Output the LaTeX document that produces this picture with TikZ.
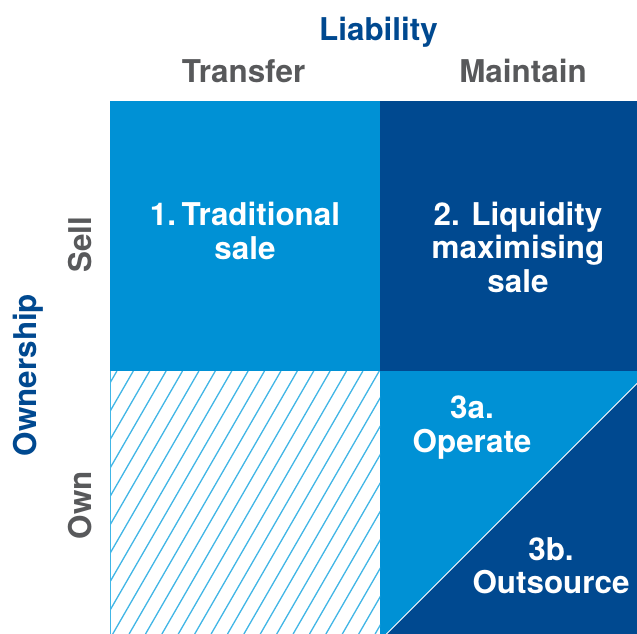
\documentclass[tikz,border=0pt]{standalone}
\usepackage{fontspec}
\setmainfont{TeX Gyre Heros}
\definecolor{lightblue}{HTML}{0091D5}
\definecolor{darkblue}{HTML}{004990}
\definecolor{hatchblue}{HTML}{41B6E6}
\definecolor{textgray}{HTML}{58595B}
\tikzset{
  lbl/.style={inner sep=0pt, anchor=base, font=\bfseries\fontsize{31.5}{34}\selectfont},
  celltext/.style={lbl, text=white},
  axistext/.style={lbl, text=textgray},
  titletext/.style={lbl, text=darkblue},
}
\begin{document}
\begin{tikzpicture}[x=1bp,y=-1bp]
\useasboundingbox (0,0) rectangle (637,634);
\fill[white] (0,0) rectangle (637,634);
% cells
\fill[lightblue] (110,101) rectangle (380,371);
\fill[darkblue] (380,101) rectangle (637,371);
\fill[lightblue] (380,371) rectangle (637,634);
\fill[darkblue] (386.5,634) -- (637,383.5) -- (637,634) -- cycle;
\draw[white, line width=0.8bp] (386.5,634) -- (637,383.5);
% hatched cell
\begin{scope}
  \clip (110,371) rectangle (380,634);
  \foreach \k in {-3,...,26} {
    \draw[hatchblue, line width=1.3bp] (133.3+16.4*\k,371) -- ++(-151.8,263);
  }
\end{scope}
\draw[hatchblue, line width=1bp] (110.5,371) -- (110.5,634);
% headers
\node[titletext] (liab) at (378.5,41) {Liability};
\node[axistext] (transfer) at (243.5,83) {Transfer};
\node[axistext] (maintain) at (523,83) {Maintain};
\node[titletext, rotate=90] (ownership) at (36,375) {Ownership};
\node[axistext, rotate=90] (sell) at (91,245) {Sell};
\node[axistext, rotate=90] (own) at (91,505) {Own};
% cell texts
\node[celltext] (t1a) at (245,225) {1.\hspace{0.18em}Traditional};
\node[celltext] (t1b) at (245,259) {sale};
\node[celltext] (t2a) at (518,225) {2. Liquidity};
\node[celltext] (t2b) at (518,258.5) {maximising};
\node[celltext] (t2c) at (518,292) {sale};
\node[celltext] (t3a) at (472,418) {3a.};
\node[celltext] (t3b) at (472,452) {Operate};
\node[celltext] (t4a) at (551,560) {3b.};
\node[celltext] (t4b) at (551,593) {Outsource};
\end{tikzpicture}
\end{document}
